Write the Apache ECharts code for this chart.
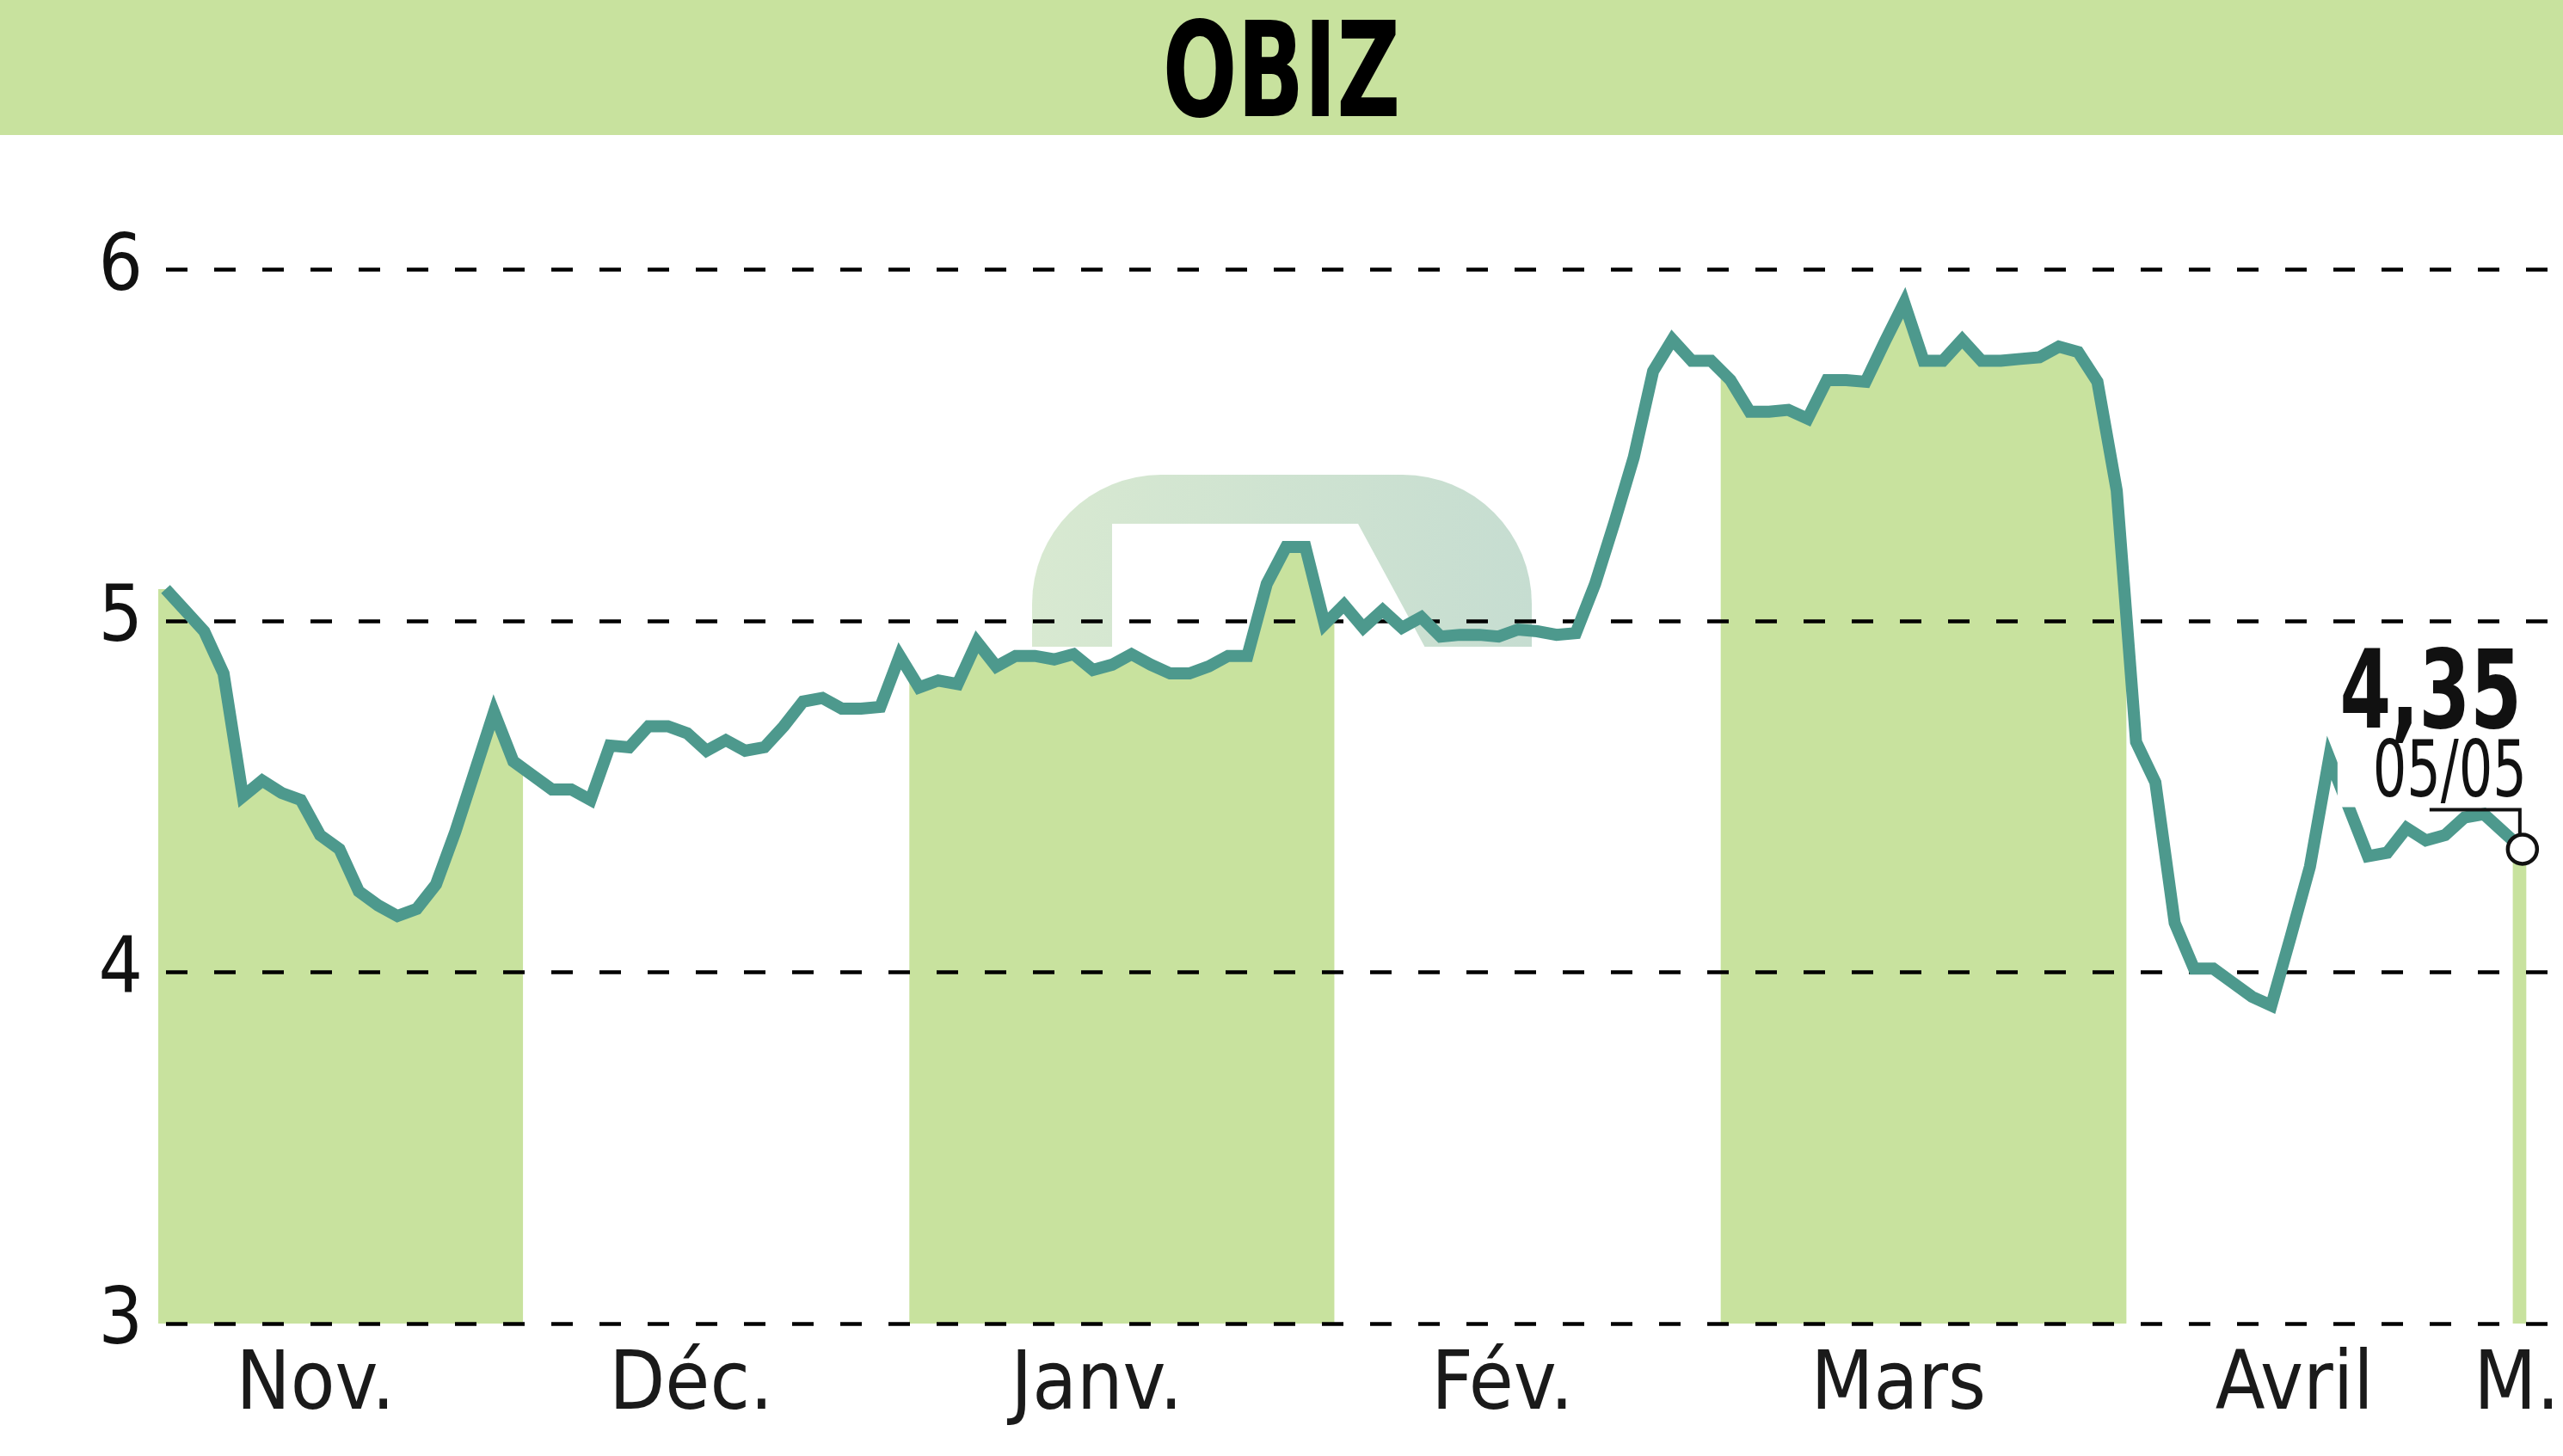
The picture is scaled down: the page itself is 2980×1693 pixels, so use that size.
<!DOCTYPE html>
<html><head><meta charset="utf-8">
<script src="https://cdn.jsdelivr.net/npm/echarts@6/dist/echarts.min.js"></script>
<style>html,body{margin:0;padding:0;background:#fff;}#c{width:2980px;height:1693px;}</style>
</head><body><div id="c"></div>
<script>
// ---------- data ----------
const titleText = 'OBIZ';
const monthNames = ['Nov.', 'Déc.', 'Janv.', 'Fév.', 'Mars', 'Avril', 'M.'];
// index (in prices) of the first session of each month
const monthStarts = [0, 19, 39, 61, 81, 102, 122];
const yTicks = [3, 4, 5, 6];
const prices = [
  5.09, 5.03, 4.97, 4.85, 4.50, 4.545, 4.51, 4.49, 4.39, 4.35,
  4.23, 4.19, 4.16, 4.18, 4.25, 4.40, 4.57, 4.74, 4.60, 4.56,
  4.52, 4.52, 4.49, 4.645, 4.64, 4.70, 4.70, 4.68, 4.63, 4.66,
  4.63, 4.64, 4.70, 4.77, 4.78, 4.75, 4.75, 4.755, 4.90, 4.81,
  4.83, 4.82, 4.94, 4.87, 4.90, 4.90, 4.89, 4.905, 4.86, 4.875,
  4.905, 4.875, 4.85, 4.85, 4.87, 4.90, 4.90, 5.105, 5.21, 5.21,
  4.99, 5.045, 4.98, 5.03, 4.98, 5.01, 4.955, 4.96, 4.96, 4.955,
  4.975, 4.97, 4.96, 4.965, 5.105, 5.28, 5.465, 5.71, 5.80, 5.74,
  5.74, 5.685, 5.595, 5.595, 5.60, 5.575, 5.685, 5.685, 5.68, 5.795,
  5.905, 5.74, 5.74, 5.80, 5.74, 5.74, 5.745, 5.75, 5.78, 5.765,
  5.68, 5.37, 4.655, 4.54, 4.14, 4.01, 4.01, 3.97, 3.93, 3.905,
  4.10, 4.30, 4.61, 4.47, 4.33, 4.34, 4.41, 4.375, 4.39, 4.44,
  4.45, 4.40, 4.35
];
const lastValueText = '4,35';
const lastDateText = '05/05';

// ---------- derived ----------
const NARROW = '"Liberation Sans Narrow","DejaVu Sans Condensed","Liberation Sans",Arial,sans-serif';
const GREEN = '#c8e29e';
const LINE = '#4d998d';
const lastIdx = prices.length - 1;
const X_MIN = -0.38, X_MAX = 124.1;
const points = prices.map((v, i) => [i, v]);

const bands = [];
for (let k = 0; k < monthStarts.length; k += 2) {
  const a = monthStarts[k] - 0.5;
  const b = (k + 1 < monthStarts.length) ? monthStarts[k + 1] - 0.5 : lastIdx + 0.2;
  bands.push([a, b]);
}
const labelPos = monthStarts.map((s, k) => (k + 1 < monthStarts.length)
  ? (Math.max(s - 0.5, X_MIN) + monthStarts[k + 1] - 0.5) / 2 - 1.3
  : lastIdx - 0.3);

function valAt(x) {
  if (x <= 0) return prices[0];
  if (x >= lastIdx) return prices[lastIdx];
  const i0 = Math.floor(x), t = x - i0;
  return prices[i0] * (1 - t) + prices[i0 + 1] * t;
}

function inkScale(text, font, target) {
  const ctx = document.createElement('canvas').getContext('2d');
  ctx.font = font;
  const m = ctx.measureText(text);
  const w = (m.actualBoundingBoxLeft || 0) + (m.actualBoundingBoxRight || m.width);
  return w > 0 ? target / w : 1;
}

const chart = echarts.init(document.getElementById('c'), null, {renderer: 'canvas', width: 2980, height: 1693});

chart.setOption({
  animation: false,
  backgroundColor: '#ffffff',
  grid: {left: 184, right: 0, top: -95.4, bottom: 154, containLabel: false, outerBoundsMode: 'none'},
  xAxis: {
    type: 'value', min: X_MIN, max: X_MAX,
    axisLine: {show: false}, axisTick: {show: false, customValues: labelPos}, splitLine: {show: false},
    axisLabel: {
      customValues: labelPos,
      formatter: v => { for (let k = 0; k < labelPos.length; k++) if (Math.abs(labelPos[k] - v) < 1e-6) return monthNames[k]; return ''; },
      fontFamily: NARROW, fontSize: 94, color: '#1a1a1a', margin: 28
    }
  },
  yAxis: {
    type: 'value', min: 3, max: 7, interval: 1, z: 2,
    axisLine: {show: false}, axisTick: {show: false},
    splitLine: {show: true, lineStyle: {color: '#000', width: 4.5, type: [25, 31], dashOffset: 47}},
    axisLabel: {
      formatter: v => (yTicks.indexOf(v) >= 0 ? String(v) : ''),
      fontFamily: NARROW, fontSize: 90, color: '#111', margin: 18
    }
  },
  series: [
    {
      type: 'custom', z: 1, silent: true,
      data: bands,
      renderItem: (params, api) => {
        const a = Math.max(api.value(0), X_MIN), b = api.value(1);
        const pts = [api.coord([a, valAt(a)])];
        for (let i = Math.ceil(a); i <= Math.floor(b); i++) if (i > a && i < b) pts.push(api.coord([i, prices[i]]));
        pts.push(api.coord([b, valAt(b)]));
        pts.push(api.coord([b, 3]));
        pts.push(api.coord([a, 3]));
        return {type: 'polygon', shape: {points: pts}, style: {fill: GREEN}};
      }
    },
    {
      type: 'line', z: 3, silent: true, data: points, symbol: 'none',
      lineStyle: {color: LINE, width: 14, join: 'miter', miterLimit: 4}
    }
  ]
});

// annotation anchored on the last point
const p = chart.convertToPixel({gridIndex: 0}, [lastIdx, prices[lastIdx]]);
const px = p[0], py = p[1];
const titleFont = 'bold 154px ' + NARROW;
const bigFont = 'bold 127px ' + NARROW;
const smallFont = '91px ' + NARROW;

chart.setOption({
  graphic: [
    // header band + title
    {id: 'bar', type: 'rect', z: 50, silent: true, shape: {x: 0, y: 0, width: 2980, height: 157}, style: {fill: GREEN}},
    {id: 'title', type: 'text', z: 51, silent: true, x: 1490, y: 95,
      scaleX: inkScale(titleText, titleFont, 268),
      style: {text: titleText, font: titleFont, fill: '#000', textAlign: 'center', textVerticalAlign: 'middle', align: 'center', verticalAlign: 'middle'}},
    // faint watermark logo behind the plot
    {id: 'logoOuter', type: 'rect', z: 0, silent: true, shape: {x: 1200, y: 552, width: 581, height: 200, r: [150, 150, 0, 0]},
      style: {fill: {type: 'linear', x: 0, y: 0, x2: 1, y2: 0, colorStops: [{offset: 0, color: '#d8e9d1'}, {offset: 1, color: '#c6ddd1'}]}}},
    {id: 'logoInner', type: 'polygon', z: 0.5, silent: true, shape: {points: [[1293, 753], [1293, 609], [1579, 609], [1657, 753]]}, style: {fill: '#ffffff'}},
    // last value label
    {id: 'lblBg', type: 'rect', z: 10, silent: true, shape: {x: px - 215, y: py - 240, width: 2980 - (px - 215), height: 191}, style: {fill: '#ffffff'}},
    {id: 'lblVal', type: 'text', z: 11, silent: true, x: px - 1, y: py - 174, scaleX: inkScale(lastValueText, bigFont, 202),
      style: {text: lastValueText, font: bigFont, fill: '#111', textAlign: 'right', textVerticalAlign: 'middle', align: 'right', verticalAlign: 'middle'}},
    {id: 'lblDate', type: 'text', z: 11, silent: true, x: px + 5, y: py - 85, scaleX: inkScale(lastDateText, smallFont, 170),
      style: {text: lastDateText, font: smallFont, fill: '#111', textAlign: 'right', textVerticalAlign: 'middle', align: 'right', verticalAlign: 'middle'}},
    {id: 'lead', type: 'polyline', z: 11, silent: true, shape: {points: [[px - 108, py - 46], [px - 3, py - 46], [px - 3, py - 17]]},
      style: {stroke: '#111', lineWidth: 4, fill: 'none'}},
    {id: 'dot', type: 'circle', z: 12, silent: true, shape: {cx: px, cy: py, r: 17}, style: {fill: '#ffffff', stroke: '#111', lineWidth: 4.5}}
  ]
});
</script>
</body></html>
